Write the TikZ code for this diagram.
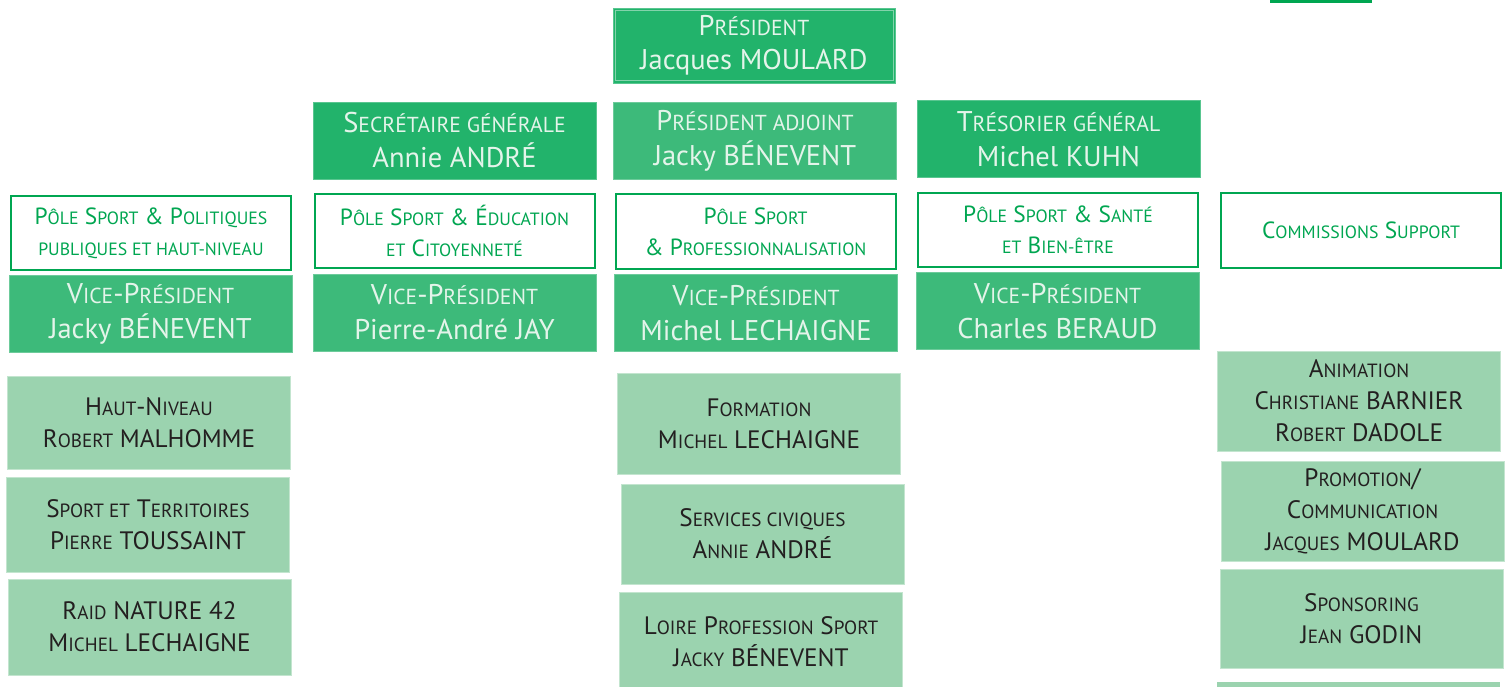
\documentclass[tikz,border=0pt]{standalone}
\usepackage{fontspec}
\setmainfont{PT Sans}
\usepackage{graphicx}
\usetikzlibrary{calc}
\definecolor{darkgreen}{HTML}{22B36B}
\definecolor{midgreen}{HTML}{3DBA7A}
\definecolor{lightgreen}{HTML}{9BD3AF}
\definecolor{linegreen}{HTML}{00A651}
\definecolor{paletext}{HTML}{E4F4EA}
\definecolor{darktext}{HTML}{231F20}
\newcommand\smc[1]{\scalebox{0.76}{#1}}

\begin{document}
\begin{tikzpicture}[x=1pt,y=-1pt,
  box/.style={inner sep=0pt,align=center,minimum width=283pt,minimum height=77pt},
  office/.style={box,fill=darkgreen,draw=darkgreen!75!white,line width=0.6pt,text=paletext,
    font=\fontsize{28.5}{35}\selectfont},
  vice/.style={office,fill=midgreen,draw=midgreen!75!white},
  pole/.style={box,minimum width=280pt,minimum height=74pt,fill=white,draw=linegreen,
    line width=2pt,text=linegreen,font=\fontsize{23.4}{31}\selectfont},
  task/.style={box,minimum height=99pt,fill=lightgreen,draw=lightgreen!60!white,line width=0.6pt,
    text=darktext,font=\fontsize{25.2}{32}\selectfont}]
\useasboundingbox (0,0) rectangle (1509,687);
\fill[linegreen] (1270,0) rectangle (1372,3);

% bureau
\node[office,minimum width=282pt,minimum height=75pt] (pres) at (754,45.5)
  {P\smc{RÉSIDENT}\\[-1pt]Jacques MOULARD};
\draw[paletext!50!darkgreen,line width=0.6pt] ($(pres.north west)+(2.5,2.5)$) rectangle ($(pres.south east)+(-2.5,-2.5)$);
\node[office] (sec) at (454.5,140.5) {S\smc{ECRÉTAIRE GÉNÉRALE}\\Annie ANDRÉ};
\node[vice] (adj) at (755,141) {P\smc{RÉSIDENT ADJOINT}\\Jacky BÉNEVENT};
\node[office] (tres) at (1058.5,139) {T\smc{RÉSORIER GÉNÉRAL}\\Michel KUHN};

% poles
\node[pole] (polepol) at (151,233)
  {P\smc{ÔLE} S\smc{PORT} \& P\smc{OLITIQUES}\\\smc{PUBLIQUES ET HAUT-NIVEAU}};
\node[pole] (poleedu) at (454.5,231)
  {P\smc{ÔLE} S\smc{PORT} \& É\smc{DUCATION}\\\smc{ET} C\smc{ITOYENNETÉ}};
\node[pole] (polepro) at (755.5,231.5)
  {P\smc{ÔLE} S\smc{PORT}\\\& P\smc{ROFESSIONNALISATION}};
\node[pole] (polesan) at (1058,230)
  {P\smc{ÔLE} S\smc{PORT} \& S\smc{ANTÉ}\\\smc{ET} B\smc{IEN-ÊTRE}};
\node[pole] (comsup) at (1361,230.5) {C\smc{OMMISSIONS} S\smc{UPPORT}};

% vice-presidents
\node[vice] (vppol) at (150.5,313.5) {V\smc{ICE}-P\smc{RÉSIDENT}\\Jacky BÉNEVENT};
\node[vice] (vpedu) at (454.5,312.5) {V\smc{ICE}-P\smc{RÉSIDENT}\\Pierre-André JAY};
\node[vice] (vppro) at (756,313) {V\smc{ICE}-P\smc{RÉSIDENT}\\Michel LECHAIGNE};
\node[vice] (vpsan) at (1057.5,311) {V\smc{ICE}-P\smc{RÉSIDENT}\\Charles BERAUD};

% commissions
\node[task,minimum height=93pt] (hn) at (149,422.5) {H\smc{AUT}-N\smc{IVEAU}\\R\smc{OBERT} MALHOMME};
\node[task,minimum height=95pt] (terr) at (148,524.5) {S\smc{PORT ET} T\smc{ERRITOIRES}\\P\smc{IERRE} TOUSSAINT};
\node[task,minimum height=96pt] (raid) at (149.5,627) {R\smc{AID} NATURE 42\\M\smc{ICHEL} LECHAIGNE};
\node[task,minimum height=101pt] (form) at (759,423.5) {F\smc{ORMATION}\\M\smc{ICHEL} LECHAIGNE};
\node[task,minimum height=100pt] (civ) at (762.5,534) {S\smc{ERVICES CIVIQUES}\\A\smc{NNIE} ANDRÉ};
\node[task,minimum height=100pt] (lps) at (761,642) {L\smc{OIRE} P\smc{ROFESSION} S\smc{PORT}\\J\smc{ACKY} BÉNEVENT};
\node[task,minimum height=100pt] (anim) at (1359,401)
  {A\smc{NIMATION}\\C\smc{HRISTIANE} BARNIER\\R\smc{OBERT} DADOLE};
\node[task,minimum height=100pt] (promo) at (1362.5,511)
  {P\smc{ROMOTION}/\\C\smc{OMMUNICATION}\\J\smc{ACQUES} MOULARD};
\node[task,minimum height=99pt] (spon) at (1361.5,619) {S\smc{PONSORING}\\J\smc{EAN} GODIN};
\fill[lightgreen] (1217,682) rectangle (1500,692);
\end{tikzpicture}
\end{document}
